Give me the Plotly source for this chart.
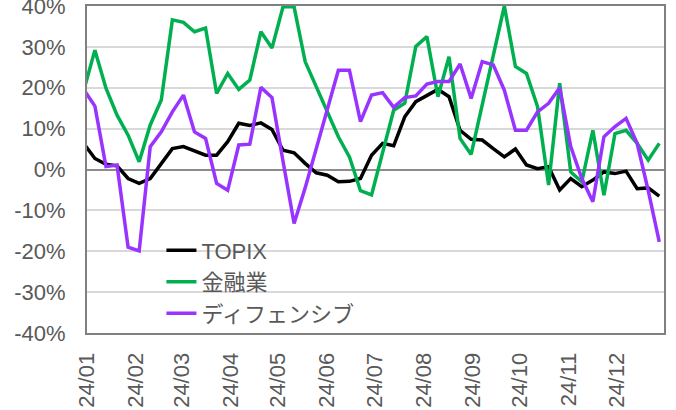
import pandas as pd
import plotly.graph_objects as go

dates = pd.date_range("2023-12-30", periods=53, freq="7D")

topix = [6.3, 2.7, 1.3, 0.9, -2.2, -3.4, -2.2, 1.5, 5.1, 5.6,
         4.6, 3.5, 3.5, 6.8, 11.3, 10.8, 11.4, 9.8, 4.7, 4.1,
         1.5, -0.8, -1.4, -3.0, -2.9, -2.2, 3.5, 6.4, 5.8, 12.9,
         16.6, 18.2, 19.6, 17.8, 9.6, 7.4, 7.2, 5.1, 3.1, 5.0,
         1.1, 0.2, 0.7, -5.0, -2.2, -4.2, -2.6, -0.6, -1.0, -0.4,
         -4.7, -4.5, -6.5]
finance = [19.4, 29.2, 19.9, 13.3, 8.4, 1.9, 10.9, 17.0, 36.6, 36.0,
           33.7, 34.6, 18.6, 23.5, 19.6, 21.9, 33.7, 29.7, 39.8, 39.8,
           26.4, 20.3, 14.5, 8.0, 3.1, -5.2, -6.2, 4.1, 14.5, 16.2,
           30.1, 32.5, 17.8, 27.6, 7.6, 3.7, 15.7, 28.0, 40.0, 25.2,
           23.5, 15.4, -3.8, 21.1, -0.6, -3.0, 9.6, -6.3, 8.8, 9.6,
           6.4, 2.3, 6.4]
defensive = [19.5, 15.5, 0.7, 1.1, -19.0, -19.9, 5.6, 9.2, 14.1, 18.2,
             9.2, 7.6, -3.4, -5.1, 6.0, 6.2, 20.1, 17.6, 2.0, -13.2,
             -4.5, 5.0, 14.5, 24.3, 24.3, 11.7, 18.2, 18.8, 15.2, 17.6,
             18.0, 20.9, 21.5, 21.5, 25.8, 17.4, 26.4, 25.6, 19.4, 9.6,
             9.6, 14.1, 16.2, 20.0, 5.6, -2.2, -7.9, 8.0, 10.5, 12.5,
             6.4, -5.1, -17.7]

series_names = ["TOPIX", "金融業", "ディフェンシブ"]
series_colors = ["#000000", "#00B050", "#9933FF"]

x_tickvals = ["2024-%02d-01" % m for m in range(1, 13)]
x_ticktext = ["24/%02d" % m for m in range(1, 13)]
y_tickvals = [-0.4, -0.3, -0.2, -0.1, 0.0, 0.1, 0.2, 0.3, 0.4]
y_ticktext = ["-40%", "-30%", "-20%", "-10%", "0%", "10%", "20%", "30%", "40%"]

fig = go.Figure()
for name, vals, col in zip(series_names, [topix, finance, defensive], series_colors):
    fig.add_trace(go.Scatter(
        x=dates, y=[v / 100 for v in vals], mode="lines", name=name,
        line=dict(color=col, width=3.5),
    ))

font = "Liberation Sans, Arial, Noto Sans CJK JP, sans-serif"
fig.update_layout(
    width=676, height=410,
    margin=dict(l=87, r=12, t=6, b=77, autoexpand=False),
    paper_bgcolor="white", plot_bgcolor="white",
    font=dict(family=font, size=22, color="#595959"),
    showlegend=True,
    legend=dict(x=0.129, y=0.317, xanchor="left", yanchor="top",
                bgcolor="rgba(0,0,0,0)", borderwidth=0,
                font=dict(size=22, color="#595959")),
    xaxis=dict(
        range=["2024-01-01", "2024-12-31"],
        tickvals=x_tickvals, ticktext=x_ticktext, tickangle=-90,
        showgrid=False, showline=True, mirror=True,
        linecolor="#808080", linewidth=2, ticks="",
        ticklabelstandoff=9, automargin=False, ticklabeloverflow="allow",
    ),
    yaxis=dict(
        range=[-0.4, 0.4],
        tickvals=y_tickvals, ticktext=y_ticktext,
        showgrid=True, gridcolor="#D9D9D9", gridwidth=1.5,
        zeroline=True, zerolinecolor="#8C8C8C", zerolinewidth=2,
        showline=True, mirror=True, linecolor="#808080", linewidth=2,
        ticks="", ticklabelstandoff=15, automargin=False, ticklabeloverflow="allow",
    ),
)

fig.write_html(
    "out.html",
    config={"displayModeBar": False},
    post_script="document.body.style.margin='0';document.body.style.overflow='hidden';",
)
